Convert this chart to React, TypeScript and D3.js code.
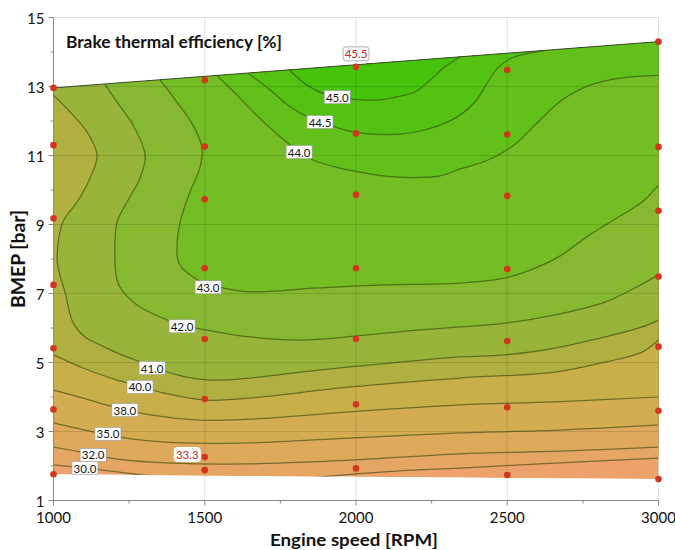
import React from 'react';
import * as d3 from 'd3';

// ---------- data ----------
const speeds = [1000, 1500, 2000, 2500, 3000];
const bmepAt1000 = [12.96, 11.3, 9.18, 7.25, 5.41, 3.64, 1.76];
const bmepAt1500 = [13.19, 11.26, 9.73, 7.73, 5.68, 3.94, 2.26, 1.88];
const bmepAt2000 = [13.57, 11.64, 9.86, 7.73, 5.68, 3.79, 1.93];
const bmepAt2500 = [13.48, 11.61, 9.83, 7.71, 5.62, 3.7, 1.74];
const bmepAt3000 = [14.3, 11.25, 9.4, 7.49, 5.46, 3.6, 1.62];
const measuredBmep = [bmepAt1000, bmepAt1500, bmepAt2000, bmepAt2500, bmepAt3000];

const levels = [30, 32, 35, 38, 40, 41, 42, 43, 44, 44.5, 45];
const levelText = ['30.0', '32.0', '35.0', '38.0', '40.0', '41.0', '42.0', '43.0', '44.0', '44.5', '45.0'];

// contour lines, [rpm, bmep]
const contour30 = [[1000, 2.03], [1104, 1.94], [1210, 1.83], [1319, 1.72], [1484, 1.6], [1650, 1.56], [1815, 1.62], [1914, 1.71], [2145, 1.86], [2344, 1.94], [2675, 2.09], [3000, 2.23]];
const contour32 = [[1000, 2.55], [1088, 2.41], [1210, 2.2], [1375, 2.09], [1650, 2.06], [1980, 2.17], [2344, 2.35], [2675, 2.43], [3000, 2.55]];
const contour35 = [[1000, 3.25], [1131, 2.99], [1263, 2.78], [1428, 2.67], [1650, 2.67], [1980, 2.81], [2344, 2.96], [2675, 3.04], [3000, 3.19]];
const contour38 = [[1000, 4.2], [1098, 3.97], [1187, 3.74], [1319, 3.48], [1484, 3.33], [1650, 3.36], [1980, 3.57], [2344, 3.77], [2658, 3.86], [3000, 4.0]];
const contour40 = [[1000, 5.22], [1098, 4.84], [1210, 4.49], [1286, 4.32], [1362, 4.12], [1507, 3.91], [1650, 3.97], [1980, 4.29], [2344, 4.55], [2658, 4.72], [2823, 5.01], [2946, 5.3], [3000, 5.65]];
const contour41 = [[1000, 12.75], [1055, 12.26], [1111, 11.68], [1144, 11.01], [1121, 10.35], [1078, 9.65], [1031, 9.07], [1012, 7.97], [1021, 7.54], [1038, 7.04], [1064, 6.17], [1104, 5.74], [1154, 5.51], [1210, 5.28], [1296, 4.99], [1408, 4.64], [1517, 4.49], [1650, 4.55], [1815, 4.72], [1980, 4.87], [2145, 5.01], [2344, 5.16], [2493, 5.22], [2658, 5.42], [2823, 5.74], [2946, 6.03], [3000, 6.23]];
const contour42 = [[1170, 13.07], [1210, 12.55], [1263, 11.88], [1303, 11.01], [1286, 10.35], [1243, 9.65], [1210, 9.07], [1203, 7.97], [1210, 7.39], [1226, 7.1], [1276, 6.67], [1352, 6.32], [1425, 6.09], [1507, 5.94], [1650, 5.74], [1815, 5.65], [2003, 5.77], [2202, 5.94], [2344, 6.03], [2493, 6.14], [2658, 6.38], [2823, 6.75], [2922, 7.16], [3000, 7.54]];
const contour43 = [[1352, 13.19], [1408, 12.55], [1461, 11.88], [1491, 11.22], [1484, 10.64], [1451, 9.94], [1425, 9.28], [1411, 8.7], [1411, 7.97], [1425, 7.74], [1451, 7.54], [1484, 7.36], [1517, 7.25], [1560, 7.16], [1650, 7.05], [1871, 7.16], [2089, 7.25], [2344, 7.3], [2493, 7.45], [2602, 7.77], [2681, 8.12], [2767, 8.67], [2880, 9.28], [2946, 9.65], [3000, 10.14]];
const contour44 = [[1540, 13.32], [1607, 12.75], [1660, 12.26], [1716, 11.8], [1782, 11.31], [1858, 10.87], [1931, 10.67], [2003, 10.53], [2096, 10.4], [2188, 10.36], [2278, 10.41], [2344, 10.61], [2437, 10.87], [2519, 11.28], [2602, 11.97], [2681, 12.61], [2774, 13.04], [2880, 13.25], [3000, 13.32]];
const contour445 = [[1643, 13.39], [1716, 12.9], [1782, 12.41], [1848, 12.09], [1930, 11.83], [2003, 11.66], [2079, 11.61], [2145, 11.62], [2212, 11.71], [2278, 11.88], [2344, 12.17], [2393, 12.55], [2436, 13.13], [2469, 13.54], [2516, 13.83], [2575, 13.97], [2625, 14.05]];
const contour45 = [[1780, 13.47], [1838, 13.04], [1904, 12.75], [1964, 12.65], [2023, 12.61], [2079, 12.61], [2136, 12.7], [2195, 12.84], [2245, 13.19], [2294, 13.57], [2345, 13.86]];
const contourLines = [contour30, contour32, contour35, contour38, contour40, contour41, contour42, contour43, contour44, contour445, contour45];

// contour label anchor points
const labelSpeed = [1104, 1131, 1180, 1236, 1286, 1326, 1425, 1511, 1812, 1881, 1938];
const labelBmep = [1.94, 2.32, 2.93, 3.62, 4.29, 4.84, 6.05, 7.18, 11.1, 11.97, 12.69];

// measured-value annotations
const noteSpeed = [2000, 1500];
const noteBmep = [13.57, 2.26];
const noteText = ['45.5', '33.3'];

// band fill colours: below 30, 30-32, ..., above 45
const bandColors = ['#eca26a', '#e6a663', '#dea95b', '#d4ac52', '#c8af4a', '#b0af42', '#98b43a', '#84b930', '#74bd24', '#62c01a', '#54c212', '#46c40c'];

const xTicks = [1000, 1500, 2000, 2500, 3000];
const yTicks = [1, 3, 5, 7, 9, 11, 13, 15];

// ---------- chart ----------
const W = 675;
const H = 550;

export default function App() {
  const x = d3.scaleLinear().domain([1000, 3000]).range([53.5, 658.5]);
  const y = d3.scaleLinear().domain([1, 15]).range([500.5, 17.5]);

  const pts: [number, number][] = [];
  speeds.forEach((s, i) => measuredBmep[i].forEach((b) => pts.push([x(s), y(b)])));
  const hull = d3.polygonHull(pts) as [number, number][];
  const hullPath = 'M' + hull.map((p) => p.join(',')).join('L') + 'Z';

  const line = d3
    .line<number[]>()
    .x((d) => x(d[0]))
    .y((d) => y(d[1]))
    .curve(d3.curveCatmullRom.alpha(0.5));

  const bandPaths = contourLines.map((c) => {
    const first = c[0];
    const last = c[c.length - 1];
    const closing: number[][] = [];
    if (last[0] >= 3000) closing.push([3200, last[1]], [3200, 17]);
    else closing.push([last[0], 17]);
    if (first[0] <= 1000) closing.push([800, 17], [800, first[1]]);
    else closing.push([first[0], 17]);
    return line(c) + closing.map((p) => `L${x(p[0])},${y(p[1])}`).join('') + 'Z';
  });

  const minorX = d3.range(1000, 3001, 250);
  const minorY = d3.range(1, 16, 1);
  const font = 'Lato, "Open Sans", sans-serif';

  const topLeft = [x(1000), y(bmepAt1000[0])];
  const topRight = [x(3000), y(bmepAt3000[0])];

  return (
    <svg width={W} height={H} style={{ position: 'absolute', left: 0, top: 0, background: '#fff' }} fontFamily={font}>
      <defs>
        <clipPath id="hullClip">
          <path d={hullPath} />
        </clipPath>
      </defs>

      {/* filled bands */}
      <g clipPath="url(#hullClip)">
        <path d={hullPath} fill={bandColors[0]} />
        {bandPaths.map((d, i) => (
          <path key={i} d={d} fill={bandColors[i + 1]} />
        ))}
      </g>

      {/* grid */}
      <g stroke="#000" strokeOpacity={0.12} strokeWidth={1}>
        {yTicks.slice(1).map((t) => (
          <line key={t} x1={x(1000)} x2={x(3000)} y1={y(t)} y2={y(t)} />
        ))}
        {xTicks.slice(1).map((t) => (
          <line key={t} x1={x(t)} x2={x(t)} y1={y(15)} y2={y(1)} />
        ))}
      </g>

      {/* contour lines */}
      <g clipPath="url(#hullClip)" fill="none" stroke="#34460c" strokeOpacity={0.62} strokeWidth={1.25}>
        {contourLines.map((c, i) => (
          <path key={i} d={line(c) || ''} />
        ))}
      </g>

      {/* top boundary */}
      <line x1={topLeft[0]} y1={topLeft[1]} x2={topRight[0]} y2={topRight[1]} stroke="#3a4a30" strokeWidth={1} />

      {/* axes */}
      <g stroke="#8a8a8a" strokeWidth={1}>
        <line x1={x(1000)} x2={x(1000)} y1={y(15)} y2={y(1)} />
        <line x1={x(1000)} x2={x(3000)} y1={y(1)} y2={y(1)} />
        {minorY.map((t) => (
          <line key={'my' + t} x1={x(1000) - (t % 2 === 1 ? 5 : 3)} x2={x(1000)} y1={y(t)} y2={y(t)} />
        ))}
        {minorX.map((t) => (
          <line key={'mx' + t} x1={x(t)} x2={x(t)} y1={y(1)} y2={y(1) + (t % 500 === 0 ? 5 : 3)} />
        ))}
      </g>

      {/* tick labels */}
      <g fontSize={15} fill="#111">
        {yTicks.map((t) => (
          <text key={t} x={x(1000) - 9} y={y(t)} textAnchor="end" dominantBaseline="central">
            {t}
          </text>
        ))}
        {xTicks.map((t) => (
          <text key={t} x={x(t)} y={523} textAnchor="middle">
            {t}
          </text>
        ))}
      </g>

      {/* measured points */}
      <g fill="#d2361e">
        {pts.map((p, i) => (
          <circle key={i} cx={p[0]} cy={p[1]} r={3.3} />
        ))}
      </g>

      {/* contour labels */}
      {levels.map((lv, i) => {
        const cx = x(labelSpeed[i]);
        const cy = y(labelBmep[i]);
        return (
          <g key={lv}>
            <rect x={cx - 13} y={cy - 6.5} width={26} height={13} fill="#fff" stroke="#9a9a9a" strokeWidth={0.6} />
            <text x={cx} y={cy} textAnchor="middle" dominantBaseline="central" fontSize={11.5} fill="#111">
              {levelText[i]}
            </text>
          </g>
        );
      })}

      {/* measured value notes */}
      {noteText.map((t, i) => {
        const cx = x(noteSpeed[i]) + (i === 0 ? 0 : -17.5);
        const cy = y(noteBmep[i]) + (i === 0 ? -13 : -2.5);
        return (
          <g key={t}>
            <rect x={cx - 13} y={cy - 7} width={26} height={14} rx={3} fill="#fff" stroke={i === 0 ? '#b0b0b0' : '#ffffff'} strokeWidth={1} />
            <text x={cx} y={cy} textAnchor="middle" dominantBaseline="central" fontSize={11.5} fill="#c0282a">
              {t}
            </text>
          </g>
        );
      })}

      {/* titles */}
      <text x={66} y={48} fontSize={17} fontWeight="bold" fill="#111" textLength={216} lengthAdjust="spacingAndGlyphs">
        Brake thermal efficiency [%]
      </text>
      <text x={354} y={546} fontSize={17} fontWeight="bold" fill="#111" textAnchor="middle" textLength={168} lengthAdjust="spacingAndGlyphs">
        Engine speed [RPM]
      </text>
      <text
        transform="translate(25,259) rotate(-90)"
        fontSize={18}
        fontWeight="bold"
        fill="#111"
        textAnchor="middle"
        textLength={98}
        lengthAdjust="spacingAndGlyphs"
      >
        BMEP [bar]
      </text>
    </svg>
  );
}
